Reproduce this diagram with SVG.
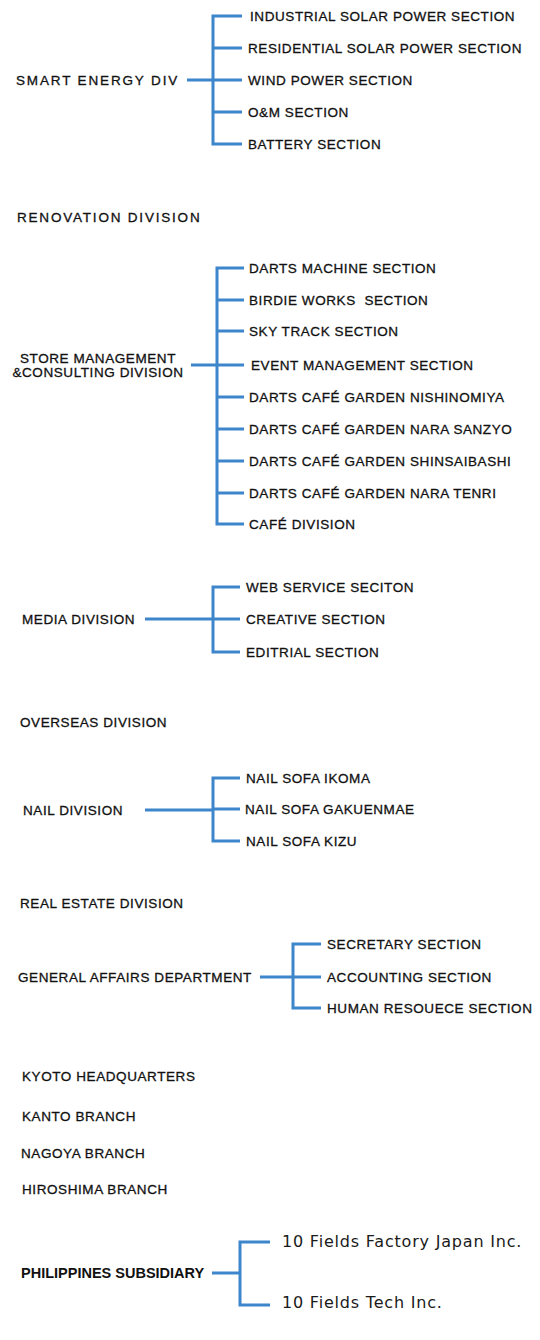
<svg xmlns="http://www.w3.org/2000/svg" width="540" height="1340" viewBox="0 0 540 1340">
<style>
  text { font-family: "Liberation Sans", Arial, sans-serif; font-size: 13.5px; fill: #111; stroke: #111; stroke-width: 0.3; letter-spacing: 0.58px; }
  .wide { letter-spacing: 1.8px; }
  .sub { font-family: "DejaVu Sans", Verdana, sans-serif; font-size: 16px; letter-spacing: 0.8px; stroke: none; fill: #1a1a1a; }
  .bold { font-weight: bold; font-size: 14.5px; letter-spacing: 0; stroke: none; }
  .conn path { fill: none; stroke: #3d86cc; stroke-width: 3; }
</style>
<rect width="540" height="1340" fill="#ffffff"/>
<g class="conn" id="connectors">
  <path d="M187 80 H213 M242 16 H213 V144 H242 M213 48 H242 M213 80 H242 M213 112 H242"/>
  <path d="M191 365 H217 M244 268 H217 V524 H244 M217 300 H244 M217 331 H244 M217 365 H244 M217 397 H244 M217 429 H244 M217 461 H244 M217 493 H244"/>
  <path d="M145 619 H213 M240 587 H213 V652 H240 M213 619 H240"/>
  <path d="M145 810 H213 M240 778 H213 V841 H240 M213 809 H240"/>
  <path d="M260 977 H293 M321 944 H293 V1008 H321 M293 977 H321"/>
  <path d="M212 1273 H240 M270 1242 H240 V1305 H270"/>
</g>
<g id="n-smart"><text x="16" y="85" style="letter-spacing:1.85px">SMART ENERGY DIV</text></g>
<g id="n-industrial"><text x="250" y="21">INDUSTRIAL SOLAR POWER SECTION</text></g>
<g id="n-residential"><text x="248" y="53">RESIDENTIAL SOLAR POWER SECTION</text></g>
<g id="n-wind"><text x="248" y="85">WIND POWER SECTION</text></g>
<g id="n-om"><text x="248" y="117">O&amp;M SECTION</text></g>
<g id="n-battery"><text x="248" y="149">BATTERY SECTION</text></g>
<g id="n-renovation"><text x="17" y="222" class="wide">RENOVATION DIVISION</text></g>
<g id="n-store"><text x="98" y="363" text-anchor="middle">STORE MANAGEMENT</text><text x="98" y="377" text-anchor="middle">&amp;CONSULTING DIVISION</text></g>
<g id="n-darts-machine"><text x="249" y="273">DARTS MACHINE SECTION</text></g>
<g id="n-birdie"><text x="249" y="305" xml:space="preserve" style="white-space:pre">BIRDIE WORKS  SECTION</text></g>
<g id="n-skytrack"><text x="249" y="336">SKY TRACK SECTION</text></g>
<g id="n-event"><text x="251" y="370">EVENT MANAGEMENT SECTION</text></g>
<g id="n-nishinomiya"><text x="249" y="402">DARTS CAFÉ GARDEN NISHINOMIYA</text></g>
<g id="n-sanzyo"><text x="249" y="434">DARTS CAFÉ GARDEN NARA SANZYO</text></g>
<g id="n-shinsaibashi"><text x="249" y="466">DARTS CAFÉ GARDEN SHINSAIBASHI</text></g>
<g id="n-tenri"><text x="249" y="498">DARTS CAFÉ GARDEN NARA TENRI</text></g>
<g id="n-cafe"><text x="249" y="529">CAFÉ DIVISION</text></g>
<g id="n-media"><text x="22" y="624">MEDIA DIVISION</text></g>
<g id="n-web"><text x="246" y="592">WEB SERVICE SECITON</text></g>
<g id="n-creative"><text x="246" y="624">CREATIVE SECTION</text></g>
<g id="n-editrial"><text x="246" y="657">EDITRIAL SECTION</text></g>
<g id="n-overseas"><text x="20" y="727">OVERSEAS DIVISION</text></g>
<g id="n-nail"><text x="23" y="815">NAIL DIVISION</text></g>
<g id="n-ikoma"><text x="246" y="783">NAIL SOFA IKOMA</text></g>
<g id="n-gakuenmae"><text x="245" y="814">NAIL SOFA GAKUENMAE</text></g>
<g id="n-kizu"><text x="246" y="846">NAIL SOFA KIZU</text></g>
<g id="n-realestate"><text x="20" y="908">REAL ESTATE DIVISION</text></g>
<g id="n-general"><text x="18" y="982">GENERAL AFFAIRS DEPARTMENT</text></g>
<g id="n-secretary"><text x="327" y="949">SECRETARY SECTION</text></g>
<g id="n-accounting"><text x="327" y="982">ACCOUNTING SECTION</text></g>
<g id="n-human"><text x="327" y="1013">HUMAN RESOUECE SECTION</text></g>
<g id="n-kyoto"><text x="22" y="1081">KYOTO HEADQUARTERS</text></g>
<g id="n-kanto"><text x="22" y="1121">KANTO BRANCH</text></g>
<g id="n-nagoya"><text x="21" y="1158">NAGOYA BRANCH</text></g>
<g id="n-hiroshima"><text x="22" y="1194">HIROSHIMA BRANCH</text></g>
<g id="n-philippines"><text x="21" y="1278" class="bold">PHILIPPINES SUBSIDIARY</text></g>
<g id="n-factory"><text x="282" y="1247" class="sub">10 Fields Factory Japan Inc.</text></g>
<g id="n-tech"><text x="282" y="1308" class="sub">10 Fields Tech Inc.</text></g>
</svg>
